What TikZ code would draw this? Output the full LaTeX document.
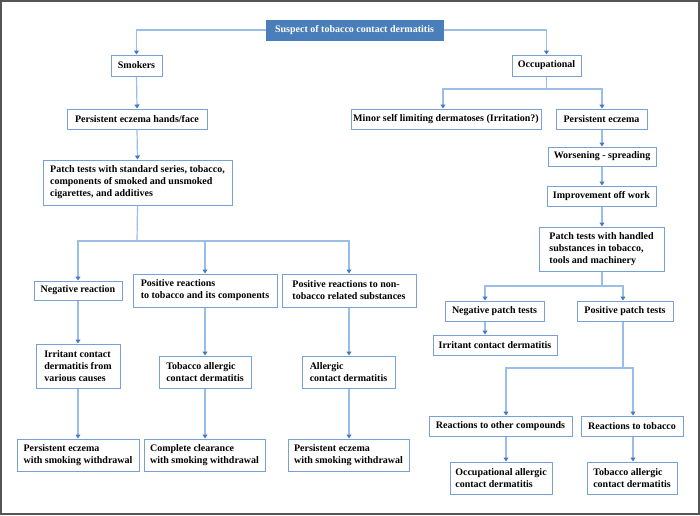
\documentclass[tikz,border=0pt]{standalone}
\usepackage{fontspec}
\setmainfont{Liberation Serif}
\usetikzlibrary{arrows.meta}
\definecolor{boxblue}{RGB}{120,160,215}
\definecolor{lineblue}{RGB}{155,190,232}
\definecolor{tipblue}{RGB}{70,120,190}
\definecolor{topfill}{RGB}{74,126,187}
\definecolor{framegray}{RGB}{85,85,85}
\begin{document}
\begin{tikzpicture}[x=1pt,y=-1pt,
  box/.style={draw=boxblue, line width=1pt, fill=white, inner sep=0pt, align=left,
    font=\fontsize{10}{12}\selectfont\bfseries, text=black},
  topbox/.style={box, draw=topfill, fill=topfill, text=white},
  conn/.style={draw=lineblue, line width=1.2pt, -{Triangle[width=5pt,length=4pt,color=tipblue]}},
  plainline/.style={draw=lineblue, line width=1.2pt}]
\useasboundingbox (0,0) rectangle (700,515);
\draw[framegray, line width=2pt] (1,1) rectangle (699,514);

% columns
\coordinate (cL1) at (78,0);
\coordinate (cL2) at (205,0);
\coordinate (cL3) at (349,0);
\coordinate (cLm) at (137,0);
\coordinate (cR0) at (602,0);
\coordinate (cRn) at (485,0);
\coordinate (cRp) at (623,0);
\coordinate (cRa) at (506,0);
\coordinate (cRb) at (633,0);
\coordinate (cMin) at (443,0);
\coordinate (yL) at (0,241);
\coordinate (yO) at (0,89);
\coordinate (yP) at (0,286);
\coordinate (yQ) at (0,368);

% nodes
\node[topbox, minimum width=177, minimum height=20] (top) at (354.5,30) {Suspect of tobacco contact dermatitis};
\node[box, minimum width=51, minimum height=21] (smk) at (136.5,65.5) {Smokers};
\node[box, minimum width=69, minimum height=21] (occ) at (546.5,65.5) {Occupational};
\node[box, minimum width=140, minimum height=20] (pehf) at (137,119) {Persistent eczema hands/face};
\node[box, minimum width=190, minimum height=20] (minor) at (446,119) {Minor self limiting dermatoses (Irritation?)};
\node[box, minimum width=91, minimum height=20] (pe) at (601.5,119) {Persistent eczema};
\node[box, minimum width=108, minimum height=19] (worse) at (602,156.5) {Worsening - spreading};
\node[box, minimum width=109, minimum height=20] (impr) at (601.5,196) {Improvement off work};
\node[box, minimum width=125, minimum height=44] (ptr) at (601.5,249) {Patch tests with handled\\substances in tobacco,\\tools and machinery};
\node[box, minimum width=99, minimum height=20] (negpt) at (494.5,311) {Negative patch tests};
\node[box, minimum width=96, minimum height=20] (pospt) at (625,311) {Positive patch tests};
\node[box, minimum width=124, minimum height=20] (ircd) at (495,345) {Irritant contact dermatitis};
\node[box, minimum width=143, minimum height=20] (roc) at (500.5,426) {Reactions to other compounds};
\node[box, minimum width=102, minimum height=20] (rtt) at (632,426) {Reactions to tobacco};
\node[box, minimum width=102, minimum height=32] (oacd) at (501,478) {Occupational allergic\\contact dermatitis};
\node[box, minimum width=90, minimum height=32] (tacdr) at (632,478) {Tobacco allergic\\contact dermatitis};

\node[box, minimum width=189, minimum height=45] (pts) at (137.5,182.5) {Patch tests with standard series, tobacco,\\components of smoked and unsmoked\\cigarettes, and additives};
\node[box, minimum width=88, minimum height=19] (neg) at (78,290.5) {Negative reaction};
\node[box, minimum width=144, minimum height=33] (posr) at (205,290.5) {Positive reactions\\to tobacco and its components};
\node[box, minimum width=134, minimum height=33] (posn) at (349,290.5) {Positive reactions to non-\\tobacco related substances};
\node[box, minimum width=84, minimum height=44] (icd) at (78,366) {Irritant contact\\dermatitis from\\various causes};
\node[box, minimum width=92, minimum height=32] (tacd) at (205,372) {Tobacco allergic\\contact dermatitis};
\node[box, minimum width=93, minimum height=32] (acd) at (348.5,372) {Allergic\\contact dermatitis};
\node[box, minimum width=122, minimum height=32] (pe1) at (78,455) {Persistent eczema\\with smoking withdrawal};
\node[box, minimum width=121, minimum height=32] (cc) at (204.5,455) {Complete clearance\\with smoking withdrawal};
\node[box, minimum width=121, minimum height=32] (pe3) at (348.5,455) {Persistent eczema\\with smoking withdrawal};

% connectors
\draw[conn] (top.west) -| (smk.north);
\draw[conn] (top.east) -| (occ.north);
\draw[conn] (smk.south) -- (pehf.north);
\draw[conn] (pehf.south) -- (pts.north);
\draw[plainline] (pts.south) -- (yL -| cLm);
\draw[conn] (yL -| cLm) -| (neg.north);
\draw[conn] (yL -| cLm) -| (posr.north);
\draw[conn] (yL -| cLm) -| (cL3 |- posn.north);
\draw[conn] (neg.south) -- (icd.north);
\draw[conn] (posr.south) -- (tacd.north);
\draw[conn] (cL3 |- posn.south) -- (cL3 |- acd.north);
\draw[conn] (icd.south) -- (pe1.north);
\draw[conn] (tacd.south) -- (tacd.south |- cc.north);
\draw[conn] (cL3 |- acd.south) -- (cL3 |- pe3.north);

\draw[plainline] (occ.south) -- (yO -| occ.south);
\draw[conn] (yO -| occ.south) -| (cMin |- minor.north);
\draw[conn] (yO -| occ.south) -| (cR0 |- pe.north);
\draw[conn] (cR0 |- pe.south) -- (cR0 |- worse.north);
\draw[conn] (cR0 |- worse.south) -- (cR0 |- impr.north);
\draw[conn] (cR0 |- impr.south) -- (cR0 |- ptr.north);
\draw[plainline] (cR0 |- ptr.south) -- (yP -| cR0);
\draw[conn] (yP -| cR0) -| (cRn |- negpt.north);
\draw[conn] (yP -| cR0) -| (cRp |- pospt.north);
\draw[conn] (cRn |- negpt.south) -- (cRn |- ircd.north);
\draw[plainline] (cRp |- pospt.south) -- (yQ -| cRp);
\draw[conn] (yQ -| cRp) -| (cRa |- roc.north);
\draw[conn] (yQ -| cRp) -| (cRb |- rtt.north);
\draw[conn] (cRa |- roc.south) -- (cRa |- oacd.north);
\draw[conn] (cRb |- rtt.south) -- (cRb |- tacdr.north);
\end{tikzpicture}
\end{document}
